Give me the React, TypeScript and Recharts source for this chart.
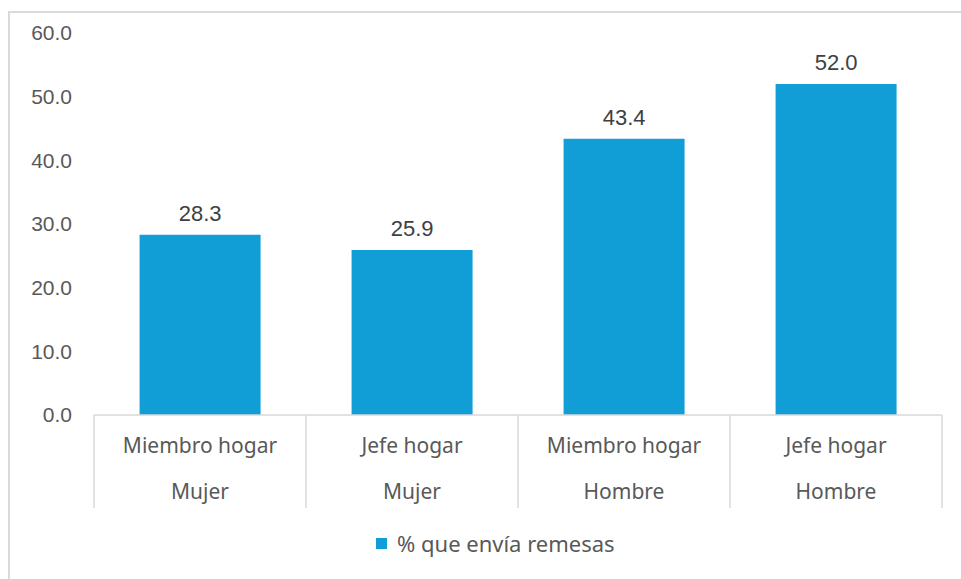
import { BarChart, Bar, XAxis, YAxis, LabelList } from 'recharts';

const roles = ['Miembro hogar', 'Jefe hogar', 'Miembro hogar', 'Jefe hogar'];
const genders = ['Mujer', 'Mujer', 'Hombre', 'Hombre'];
const remesas = [28.3, 25.9, 43.4, 52.0];
const yTicks = [0, 10, 20, 30, 40, 50, 60];
const seriesName = '% que envía remesas';

const data = remesas.map((v, i) => ({
  key: `${roles[i]} ${genders[i]} ${i}`,
  role: roles[i],
  gender: genders[i],
  value: v,
}));

const W = 961;
const H = 579;
const margin = { top: 33, right: 19, bottom: 71, left: 10 };
const Y_AXIS_W = 84;
const X_AXIS_H = 93;
const BAND = (W - margin.left - margin.right - Y_AXIS_W) / data.length;

const BLUE = '#119ED7';
const GRID = '#d9d9d9';
const LABEL_FONT = '"Noto Sans", sans-serif';
const NUM_FONT = '"Liberation Sans", Arial, sans-serif';

function CategoryTick(props: any) {
  const { x, y, index } = props;
  const half = BAND / 2;
  const d = data[index];
  return (
    <g>
      <line x1={x - half} y1={y} x2={x - half} y2={y + X_AXIS_H} stroke={GRID} strokeWidth={1.5} />
      {index === data.length - 1 && (
        <line x1={x + half} y1={y} x2={x + half} y2={y + X_AXIS_H} stroke={GRID} strokeWidth={1.5} />
      )}
      <text x={x} y={y + 31} dy="0.35em" textAnchor="middle" fill="#595959" fontSize={21} fontFamily={LABEL_FONT}>
        {d.role}
      </text>
      <text x={x} y={y + 77} dy="0.35em" textAnchor="middle" fill="#595959" fontSize={21} fontFamily={LABEL_FONT}>
        {d.gender}
      </text>
    </g>
  );
}

export default function App() {
  return (
    <div style={{ position: 'absolute', left: 0, top: 0, width: W, height: H, overflow: 'hidden', background: '#fff' }}>
      <div
        style={{
          position: 'absolute',
          left: 8,
          top: 11,
          width: W + 20,
          height: H + 20,
          border: `2px solid ${GRID}`,
          boxSizing: 'border-box',
        }}
      />
      <BarChart width={W} height={H} data={data} margin={margin} barCategoryGap="21.5%" style={{ position: 'absolute', left: 0, top: 0 }}>
        <XAxis
          dataKey="key"
          axisLine={{ stroke: GRID, strokeWidth: 1.5 }}
          tickLine={false}
          tickSize={0}
          tickMargin={0}
          height={X_AXIS_H}
          interval={0}
          tick={<CategoryTick />}
        />
        <YAxis
          width={Y_AXIS_W}
          domain={[0, 60]}
          ticks={yTicks}
          axisLine={false}
          tickLine={false}
          tickSize={0}
          tickMargin={22}
          tickFormatter={(v: number) => v.toFixed(1)}
          tick={{ fill: '#595959', fontSize: 21, fontFamily: NUM_FONT }}
        />
        <Bar dataKey="value" name={seriesName} fill={BLUE} isAnimationActive={false}>
          <LabelList
            dataKey="value"
            position="top"
            offset={14}
            formatter={(v: any) => Number(v).toFixed(1)}
            style={{ fill: '#404040', fontSize: 22, fontFamily: NUM_FONT }}
          />
        </Bar>
      </BarChart>
      <div
        style={{
          position: 'absolute',
          left: 376,
          top: 528,
          height: 30,
          display: 'flex',
          alignItems: 'center',
          fontFamily: LABEL_FONT,
          fontSize: 22,
          color: '#595959',
          whiteSpace: 'nowrap',
        }}
      >
        <span style={{ display: 'inline-block', width: 11, height: 11, background: BLUE, marginRight: 10 }} />
        <span>{seriesName}</span>
      </div>
    </div>
  );
}
